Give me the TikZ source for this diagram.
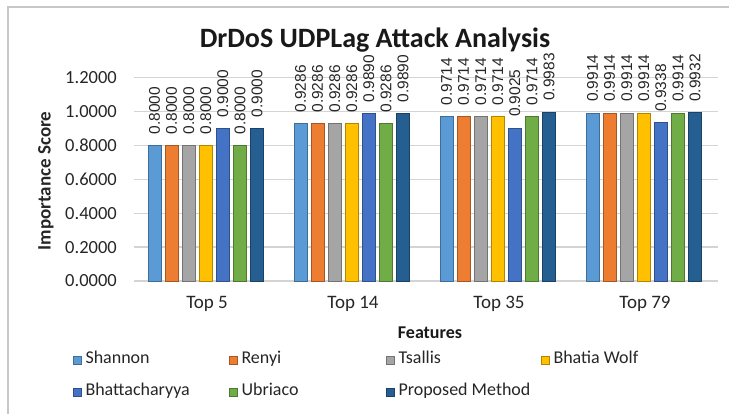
\documentclass[tikz,border=0pt]{standalone}
\usepackage{fontspec}
\setmainfont{Carlito}
\newfontfamily\valfont{Liberation Sans}
\usetikzlibrary{positioning}

% series colours
\definecolor{bar0}{HTML}{5B9BD5}
\definecolor{bar1}{HTML}{ED7D31}
\definecolor{bar2}{HTML}{A5A5A5}
\definecolor{bar3}{HTML}{FFC000}
\definecolor{bar4}{HTML}{4472C4}
\definecolor{bar5}{HTML}{70AD47}
\definecolor{bar6}{HTML}{255E91}

\begin{document}
\begin{tikzpicture}[
    x = 1pt, y = 1pt, % one unit per pixel
    grid/.style = {draw = black!17, line width = 1.3pt},
    bar/.style = {fill = #1, draw = #1!70!black, line width = 0.9pt},
    ticklab/.style = {anchor = east, inner sep = 0pt, text = black!85,
        font = \fontsize{18.5}{20}\selectfont},
    vallab/.style = {anchor = west, rotate = 90, inner sep = 0pt, text = black!85,
        font = \valfont\fontsize{15.5}{17}\selectfont},
    catlab/.style = {text = black!85, font = \fontsize{19}{21}\selectfont},
    legbox/.style = {fill = #1, draw = #1!70!black, line width = 0.6pt,
        minimum size = 8pt, inner sep = 0pt},
    legtext/.style = {inner sep = 0pt, text = black!85, text height = 12pt, text depth = 4pt,
        font = \fontsize{18}{20}\selectfont}
    ]

    \useasboundingbox (0,0) rectangle (729,414);
    % chart frame
    \draw[black!22, line width = 1.5pt] (8,0) -- (8,407) -- (729,407);

    \node[font = \bfseries\fontsize{28}{32}\selectfont, text = black!90] (title) at (375,374)
        {DrDoS UDPLag Attack Analysis};

    % value axis and grid
    \foreach \t [count=\k from 0] in {0.0000,0.2000,0.4000,0.6000,0.8000,1.0000,1.2000} {
        \pgfmathsetmacro\gy{133+169.3*0.2*\k}
        \draw[grid] (134,\gy) -- (718,\gy);
        \node[ticklab] (tick\k) at (117,\gy) {\t};
    }
    \node[rotate = 90, text = black!85, font = \bfseries\fontsize{19}{21}\selectfont]
        (ytitle) at (46,233) {Importance Score};

    % bars with their values
    \foreach \vals [count=\c from 0] in {
        {0.8000,0.8000,0.8000,0.8000,0.9000,0.8000,0.9000},
        {0.9286,0.9286,0.9286,0.9286,0.9890,0.9286,0.9890},
        {0.9714,0.9714,0.9714,0.9714,0.9025,0.9714,0.9983},
        {0.9914,0.9914,0.9914,0.9914,0.9338,0.9914,0.9932}} {
        \foreach \v [count=\i from 0] in \vals {
            \pgfmathsetmacro\bx{148+146*\c+17.1*\i}
            \pgfmathsetmacro\by{133+169.3*\v}
            \draw[bar = bar\i] (\bx,133) rectangle (\bx+13,\by);
            \node[vallab] (val\c\i) at (\bx+6.5,\by+11) {\v};
        }
    }

    % categories
    \foreach \cat [count=\c from 0] in {Top 5,Top 14,Top 35,Top 79}
        \node[catlab] (cat\c) at (134+146*\c+73,110) {\cat};
    \node[text = black!90, font = \bfseries\fontsize{18}{20}\selectfont] (xtitle) at (430,81) {Features};

    % legend
    \foreach \name/\lx/\ly [count=\i from 0] in {Shannon/77/54, Renyi/233/54, Tsallis/390/54,
        Bhatia Wolf/545/54, Bhattacharyya/77/22, Ubriaco/233/22, Proposed Method/390/22} {
        \node[legbox = bar\i] (lb\i) at (\lx,\ly) {};
        \node[legtext, right = 4pt of lb\i] (lt\i) {\name};
    }
\end{tikzpicture}
\end{document}
